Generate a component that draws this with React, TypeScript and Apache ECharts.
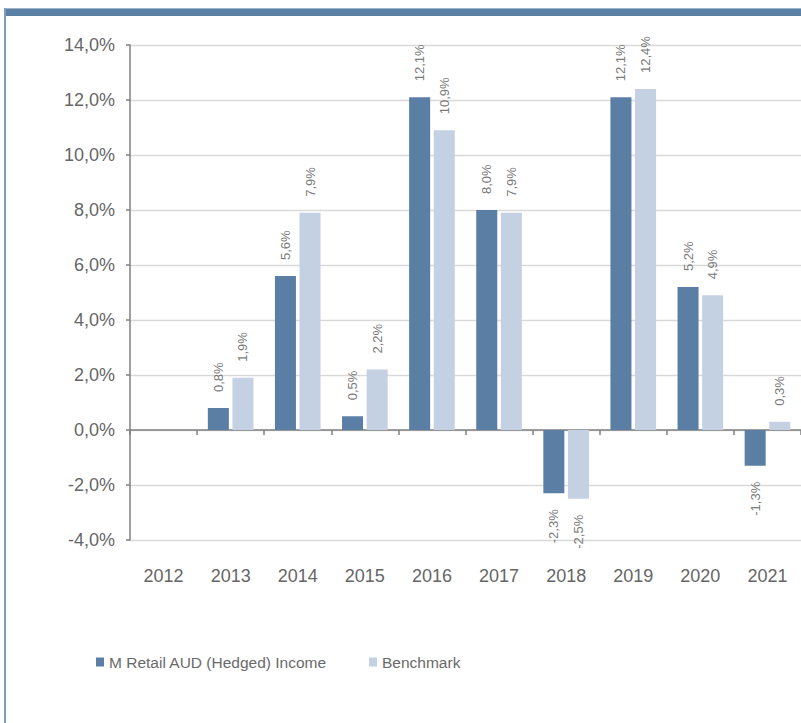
import React, { useEffect, useRef } from "react";
import * as echarts from "echarts";

const years = ["2012", "2013", "2014", "2015", "2016", "2017", "2018", "2019", "2020", "2021"];
const fundName = "M Retail AUD (Hedged) Income";
const benchName = "Benchmark";
const fundValues: (number | null)[] = [null, 0.8, 5.6, 0.5, 12.1, 8.0, -2.3, 12.1, 5.2, -1.3];
const benchValues: (number | null)[] = [null, 1.9, 7.9, 2.2, 10.9, 7.9, -2.5, 12.4, 4.9, 0.3];

const DARK = "#5B7FA4";
const LIGHT = "#C4D1E3";
const FONT = "'Liberation Sans', Arial, sans-serif";
const NARROW = "'Liberation Sans Narrow', 'Arial Narrow', 'Liberation Sans', Arial, sans-serif";
const fmt = (v: number) => v.toFixed(1).replace(".", ",") + "%";

function makeData(vals: (number | null)[]) {
  return vals.map((v) => {
    if (v === null) return null;
    const neg = v < 0;
    return {
      value: v,
      label: {
        show: true,
        position: neg ? "bottom" : "top",
        rotate: 90,
        align: neg ? "right" : "left",
        verticalAlign: "middle",
        distance: 16,
        formatter: () => fmt(v),
        color: "#7a7a7a",
        fontSize: 13,
        fontFamily: FONT,
      },
    };
  });
}

export default function App() {
  const ref = useRef<HTMLDivElement>(null);
  useEffect(() => {
    document.body.style.margin = "0";
    if (!ref.current) return;
    const chart = echarts.init(ref.current, null, { renderer: "svg" });
    chart.setOption({
      animation: false,
      backgroundColor: "#ffffff",
      textStyle: { fontFamily: FONT },
      graphic: [
        { type: "rect", shape: { x: 4, y: 8, width: 797, height: 8 }, style: { fill: "#5B80A5" } },
        { type: "rect", shape: { x: 4, y: 8, width: 797, height: 1 }, style: { fill: "#9DB3CB" } },
        { type: "rect", shape: { x: 4, y: 8, width: 2, height: 715 }, style: { fill: "#7F9CBE" } },
      ],
      grid: { left: 130, right: -3, top: 45, bottom: 183, containLabel: false },
      legend: [
        {
          data: [fundName],
          left: 96,
          top: 654,
          padding: 0,
          itemWidth: 8,
          itemHeight: 9,
          icon: "rect",
          textStyle: { color: "#6a6a6a", fontSize: 15.5, fontFamily: NARROW },
        },
        {
          data: [benchName],
          left: 369,
          top: 654,
          padding: 0,
          itemWidth: 8,
          itemHeight: 9,
          icon: "rect",
          textStyle: { color: "#6a6a6a", fontSize: 15.5, fontFamily: NARROW },
        },
      ],
      xAxis: [
        {
          type: "category",
          data: years,
          position: "bottom",
          axisLine: { show: false, onZero: false },
          axisTick: { show: false },
          axisLabel: { color: "#666666", fontSize: 18, fontFamily: FONT, margin: 27 },
          splitLine: { show: false },
        },
        {
          type: "category",
          data: years,
          position: "bottom",
          axisLine: { show: true, onZero: true, lineStyle: { color: "#808080", width: 1.5 } },
          axisTick: { show: true, length: 5, lineStyle: { color: "#808080", width: 1.5 } },
          axisLabel: { show: false },
          splitLine: { show: false },
        },
      ],
      yAxis: {
        type: "value",
        min: -4,
        max: 14,
        interval: 2,
        axisLine: { show: true, lineStyle: { color: "#808080", width: 1.5 } },
        axisTick: { show: true, length: 4, lineStyle: { color: "#808080", width: 1.5 } },
        axisLabel: { color: "#666666", fontSize: 18, fontFamily: FONT, margin: 15, formatter: (v: number) => fmt(v) },
        splitLine: { show: true, lineStyle: { color: "#D9D9D9", width: 1.3 } },
      },
      series: [
        {
          name: fundName,
          type: "bar",
          xAxisIndex: 0,
          data: makeData(fundValues),
          itemStyle: { color: DARK },
          barGap: "17%",
          barCategoryGap: "32%",
        },
        {
          name: benchName,
          type: "bar",
          xAxisIndex: 0,
          data: makeData(benchValues),
          itemStyle: { color: LIGHT },
        },
      ],
    });
    return () => chart.dispose();
  }, []);
  return <div ref={ref} style={{ width: 801, height: 723 }} />;
}
